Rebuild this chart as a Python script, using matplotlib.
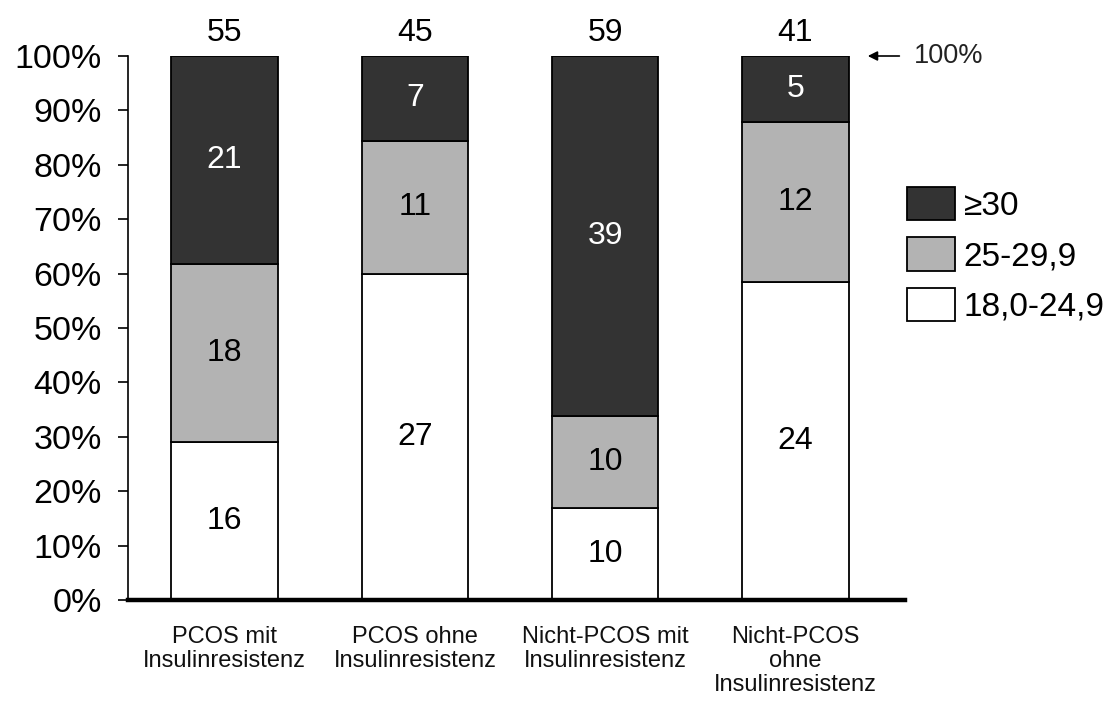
import numpy as np
import matplotlib
matplotlib.use("Agg")
import matplotlib.pyplot as plt
from matplotlib.patches import Patch

plt.rcParams['font.family'] = ['Liberation Sans', 'DejaVu Sans']

# BMI groups per study group (counts)
categories = ["PCOS mit\nInsulinresistenz", "PCOS ohne\nInsulinresistenz",
              "Nicht-PCOS mit\nInsulinresistenz", "Nicht-PCOS\nohne\nInsulinresistenz"]
bmi_normal = [16, 27, 10, 24]      # 18,0-24,9
bmi_over = [18, 11, 10, 12]        # 25-29,9
bmi_obese = [21, 7, 39, 5]         # >=30
series_labels = ["18,0-24,9", "25-29,9", "\u226530"]
series_colors = ["#ffffff", "#b3b3b3", "#333333"]
text_colors = ["black", "black", "white"]
yticks = [0, 10, 20, 30, 40, 50, 60, 70, 80, 90, 100]

counts = np.array([bmi_normal, bmi_over, bmi_obese], dtype=float)
totals = counts.sum(axis=0)
shares = counts / totals

fig = plt.figure(figsize=(11.15, 7.07), dpi=100)
ax = fig.add_axes([128 / 1115, 107 / 707, 777 / 1115, 544 / 707])

x = np.arange(len(categories))
width = 0.56
bottom = np.zeros(len(categories))
for i in range(3):
    ax.bar(x, shares[i], width, bottom=bottom, color=series_colors[i],
           edgecolor="black", linewidth=1.3, zorder=2)
    for j in range(len(categories)):
        ax.text(x[j], bottom[j] + shares[i][j] / 2, f"{int(counts[i][j])}",
                ha="center", va="center", fontsize=23, color=text_colors[i])
    bottom += shares[i]

for j in range(len(categories)):
    ax.annotate(f"{int(totals[j])}", xy=(x[j], 1.0), xytext=(0, 6),
                textcoords="offset points", ha="center", va="bottom",
                fontsize=23, annotation_clip=False)

ax.set_xlim(-0.507, 3.575)
ax.set_ylim(0, 1)
ax.set_yticks([v / 100 for v in yticks])
ax.set_yticklabels([f"{v}%" for v in yticks], fontsize=24.5)
ax.tick_params(axis="y", direction="out", length=7, width=1.2, pad=12)
ax.set_xticks(x)
ax.set_xticklabels(categories, fontsize=17, linespacing=1.1, color="#111111")
ax.tick_params(axis="x", length=0, pad=19)

for s in ["top", "right"]:
    ax.spines[s].set_visible(False)
ax.spines["left"].set_linewidth(1.2)
ax.spines["bottom"].set_linewidth(3.2)
ax.spines["bottom"].set_zorder(3)

# arrow marking the 100% line
ax.annotate("", xy=(3.365, 1.0), xytext=(3.56, 1.0),
            arrowprops=dict(arrowstyle="-|>", color="black", lw=1.2,
                            mutation_scale=14), annotation_clip=False)
ax.text(3.62, 1.0, "100%", ha="left", va="center", fontsize=19.5,
        color="#222222", transform=ax.transData, clip_on=False)

handles = [Patch(facecolor=series_colors[i], edgecolor="black", linewidth=1.3)
           for i in [2, 1, 0]]
fig.legend(handles, [series_labels[i] for i in [2, 1, 0]],
           loc="upper left", bbox_to_anchor=(907 / 1115, 1 - 187 / 707),
           frameon=False, fontsize=24, handlelength=1.45, handleheight=1.15,
           handletextpad=0.25, labelspacing=0.47, borderaxespad=0, borderpad=0)

fig.savefig("out.png", dpi=100)
